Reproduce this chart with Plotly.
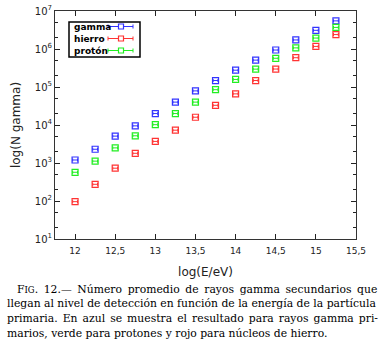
import plotly.graph_objects as go

energy = [12.0, 12.25, 12.5, 12.75, 13.0, 13.25, 13.5, 13.75, 14.0, 14.25, 14.5, 14.75, 15.0, 15.25]
gamma = [1200, 2300, 5100, 9500, 20000, 40000, 79000, 148000, 277000, 510000, 940000, 1.73e6, 3.1e6, 5.5e6]
hierro = [96, 275, 730, 1800, 3700, 7300, 16000, 33000, 66000, 148000, 297000, 590000, 1.17e6, 2.4e6]
proton = [570, 1120, 2500, 5200, 10200, 20000, 40000, 85000, 158000, 295000, 570000, 1.07e6, 1.94e6, 3.7e6]

series_names = ["gamma", "hierro", "protón"]
series_values = [gamma, hierro, proton]
series_colors = ["#3333ff", "#ff3333", "#22ee22"]

x_tickvals = [12, 12.5, 13, 13.5, 14, 14.5, 15, 15.5]
x_ticktext = ["12", "12,5", "13", "13,5", "14", "14,5", "15", "15,5"]
y_tickvals = [10, 100, 1e3, 1e4, 1e5, 1e6, 1e7]
y_ticktext = ["10<sup>%d</sup>" % i for i in range(1, 8)]

caption = [
    "F<span style='font-size:8.5px'>IG</span>. 12.— Número promedio de rayos gamma secundarios que",
    "llegan al nivel de detección en función de la energía de la partícula",
    "primaria. En azul se muestra el resultado para rayos gamma pri-",
    "marios, verde para protones y rojo para núcleos de hierro.",
]
caption_wordspacing = [2.2, 0, 1.6, 0]

W, H = 382, 345
L, R, T, B = 55, 26, 11, 106

def px(x):
    return (x - L) / (W - L - R)

def py(y):
    return (H - B - y) / (H - T - B)

fig = go.Figure()
for name, vals, col in zip(series_names, series_values, series_colors):
    fig.add_trace(go.Scatter(
        x=energy, y=vals, mode="markers", name=name, showlegend=False,
        marker=dict(symbol="square-open", size=6, color=col, line=dict(width=1.2, color=col)),
        error_x=dict(type="constant", value=0.03, color=col, thickness=1, width=1.5),
    ))

axis_common = dict(showline=True, linecolor="#333", linewidth=1, mirror="allticks",
                   ticks="inside", tickcolor="#222", showgrid=False, zeroline=False,
                   ticklabeloverflow="allow")

fig.update_xaxes(range=[11.75, 15.5], tickvals=x_tickvals, ticktext=x_ticktext, ticklen=5,
                 ticklabelstandoff=3,
                 tickfont=dict(family="DejaVu Sans", size=9, color="#222"),
                 title=dict(text="log(E/eV)", font=dict(family="DejaVu Sans", size=12, color="#222"), standoff=12),
                 **axis_common)
fig.update_yaxes(type="log", range=[1, 7], tickvals=y_tickvals, ticktext=y_ticktext, ticklen=5,
                 tickfont=dict(family="DejaVu Sans", size=10, color="#222"),
                 minor=dict(ticks="inside", ticklen=3, tickcolor="#222", showgrid=False),
                 title=dict(text="log(N gamma)", font=dict(family="DejaVu Sans", size=12, color="#222"), standoff=11),
                 **axis_common)

shapes = []
annotations = []
# custom legend box
shapes.append(dict(type="rect", xref="paper", yref="paper", x0=px(69), x1=px(140), y0=py(57), y1=py(22),
                   line=dict(color="black", width=1.5), fillcolor="white", layer="above"))
for i, (name, col) in enumerate(zip(series_names, series_colors)):
    yy = 26.5 + i * 12
    annotations.append(dict(text="<b>%s</b>" % name, xref="paper", yref="paper", x=px(72), y=py(yy),
                            xanchor="left", yanchor="middle", showarrow=False,
                            font=dict(family="DejaVu Sans", size=9, color="black")))
    shapes.append(dict(type="line", xref="paper", yref="paper", x0=px(108), x1=px(133), y0=py(yy), y1=py(yy),
                       line=dict(color=col, width=1), layer="above"))
    for xe in (108, 133):
        shapes.append(dict(type="line", xref="paper", yref="paper", x0=px(xe), x1=px(xe), y0=py(yy - 2), y1=py(yy + 2),
                           line=dict(color=col, width=1), layer="above"))
    shapes.append(dict(type="rect", xref="paper", yref="paper", x0=px(118.5), x1=px(123.5), y0=py(yy + 2.5), y1=py(yy - 2.5),
                       line=dict(color=col, width=1.2), fillcolor="white", layer="above"))

for i, (line, ws) in enumerate(zip(caption, caption_wordspacing)):
    txt = line if ws == 0 else "<span style='word-spacing:%.1fpx'>%s</span>" % (ws, line)
    annotations.append(dict(text=txt, xref="paper", yref="paper", x=px(15 if i == 0 else 5), y=py(289 + i * 14.7),
                            xanchor="left", yanchor="middle", showarrow=False,
                            font=dict(family="DejaVu Serif", size=10.8, color="black")))

fig.update_layout(width=W, height=H, margin=dict(l=L, r=R, t=T, b=B, autoexpand=False),
                  paper_bgcolor="white", plot_bgcolor="white", shapes=shapes, annotations=annotations,
                  showlegend=False)

fig.write_html("out.html", config={"displayModeBar": False},
               post_script="document.body.style.margin='0';document.body.style.overflow='hidden';")
